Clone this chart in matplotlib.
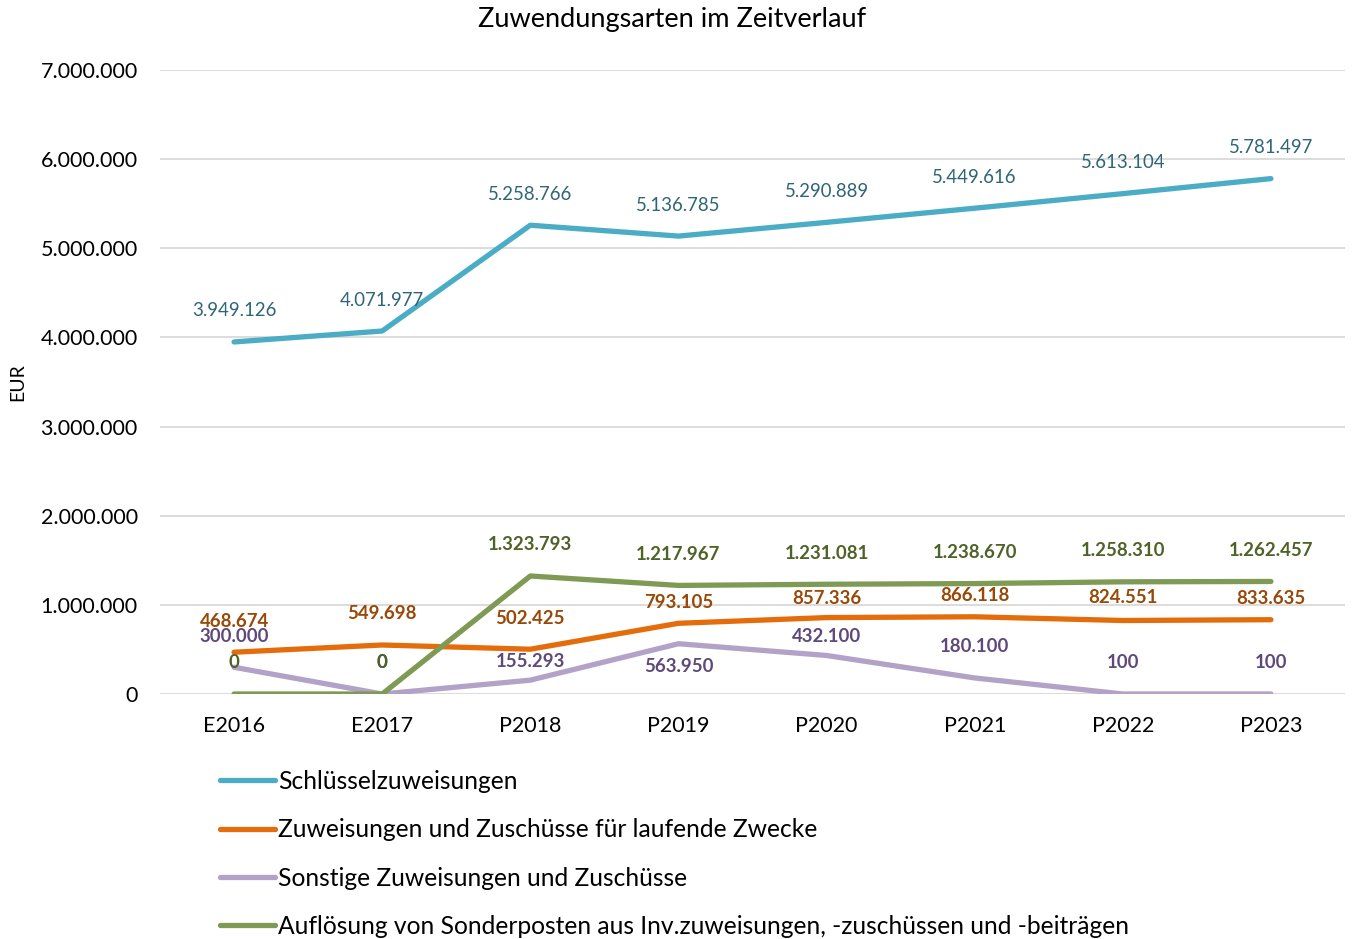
import matplotlib
matplotlib.use("Agg")
import matplotlib.pyplot as plt
from matplotlib.ticker import FuncFormatter

plt.rcParams['font.family'] = ['Lato', 'DejaVu Sans']

categories = ["E2016", "E2017", "P2018", "P2019", "P2020", "P2021", "P2022", "P2023"]
schluessel = [3949126, 4071977, 5258766, 5136785, 5290889, 5449616, 5613104, 5781497]
laufende = [468674, 549698, 502425, 793105, 857336, 866118, 824551, 833635]
sonstige = [300000, 0, 155293, 563950, 432100, 180100, 100, 100]
aufloesung = [0, 0, 1323793, 1217967, 1231081, 1238670, 1258310, 1262457]

names = ["Schlüsselzuweisungen",
         "Zuweisungen und Zuschüsse für laufende Zwecke",
         "Sonstige Zuweisungen und Zuschüsse",
         "Auflösung von Sonderposten aus Inv.zuweisungen, -zuschüssen und -beiträgen"]

def de(v):
    return f"{int(v):,}".replace(",", ".")

W, H = 1352, 939
fig = plt.figure(figsize=(W/100, H/100), dpi=100)
ax = fig.add_axes([160/W, 1-694/H, (1345-160)/W, (694-70)/H])

x = list(range(len(categories)))
series = [
    (schluessel, "#4BACC6", "#2E6577", "normal", [31]*8),
    (laufende, "#E46C0A", "#984807", "bold", [31, 31, 31, 21, 19, 21, 23, 21]),
    (sonstige, "#B3A2C7", "#5F497A", "bold", [31, 31, 19, -23, 19, 31, 31, 31]),
    (aufloesung, "#7F9A55", "#4F6228", "bold", [31]*8),
]
order_draw = [0, 2, 1, 3]
lines = {}
for i in order_draw:
    vals, lc, tc, fw, offs = series[i]
    ln, = ax.plot(x, vals, color=lc, lw=3.8, solid_capstyle='round', zorder=3 + i * 0.1)
    lines[i] = ln
for i in [0, 1, 2, 3]:
    vals, lc, tc, fw, offs = series[i]
    for xi, v, o in zip(x, vals, offs):
        ax.annotate(de(v), (xi, v), xytext=(0, o), textcoords='offset pixels',
                    ha='center', va='center', fontsize=13.4, color=tc,
                    fontweight=fw, zorder=5)

ax.set_xlim(-0.5, len(categories) - 0.5)
ax.set_ylim(0, 7000000)
ax.set_yticks(range(0, 7000001, 1000000))
ax.yaxis.set_major_formatter(FuncFormatter(lambda v, p: de(v)))
ax.set_xticks(x)
ax.set_xticklabels(categories)
ax.tick_params(axis='both', length=0, labelsize=15.5, colors='black')
ax.tick_params(axis='y', pad=16)
ax.tick_params(axis='x', pad=16)
ax.grid(axis='y', color='#D9D9D9', lw=1.3)
ax.set_axisbelow(True)
for s in ax.spines.values():
    s.set_visible(False)

fig.text(18/W, 1-382/H, "EUR", rotation=90, ha='center', va='center', fontsize=14)
fig.text(672/W, 1-20/H, "Zuwendungsarten im Zeitverlauf", ha='center', va='center', fontsize=19.5)

fs = 17.7
fs_px = fs * 100 / 72
fig.legend([lines[i] for i in range(4)], names, loc='upper left',
           bbox_to_anchor=(220/W, 1-770/H), frameon=False, fontsize=fs,
           handlelength=55/fs_px, handletextpad=3/fs_px, borderpad=0,
           borderaxespad=0, labelspacing=1.03)

fig.savefig("out.png", dpi=100)
